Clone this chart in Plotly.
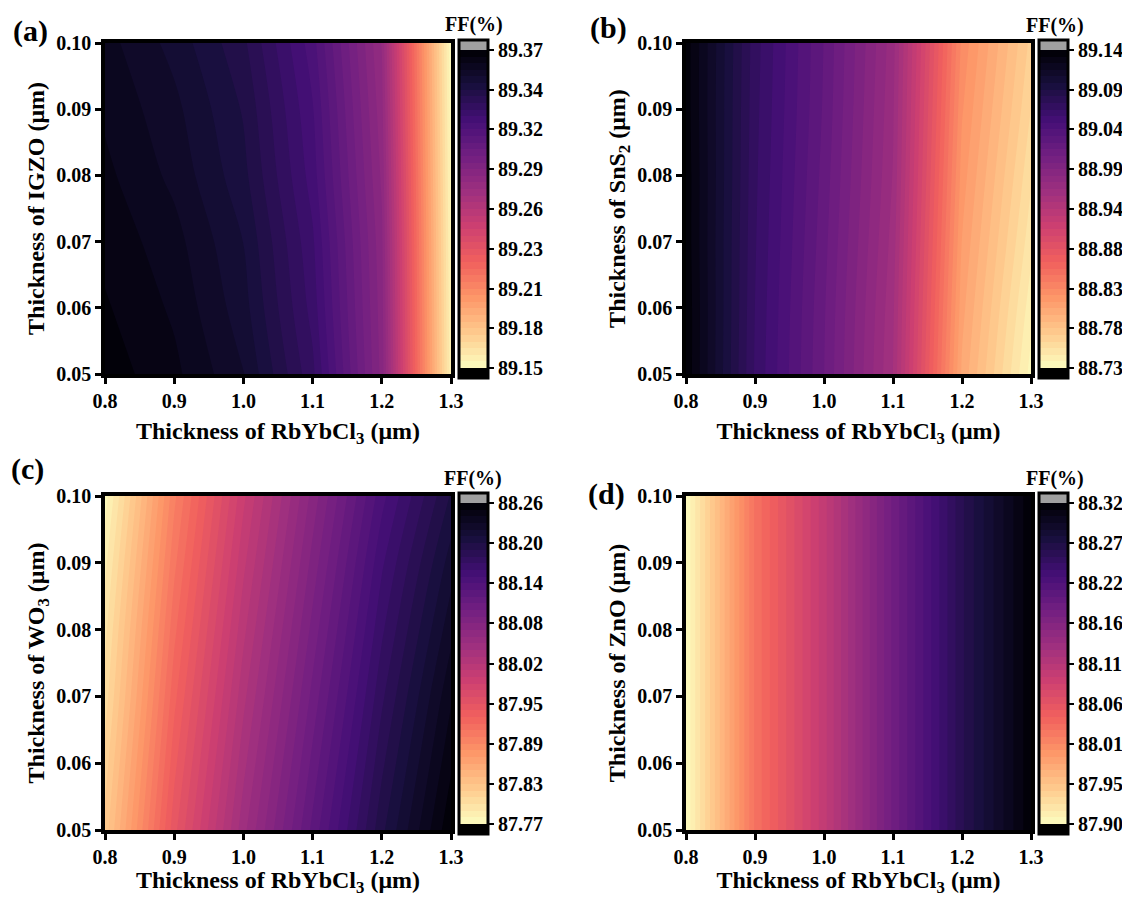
import numpy as np
import plotly.graph_objects as go

# ---------------- data ----------------
x_rbybcl3 = [0.8, 0.9, 1.0, 1.1, 1.2, 1.3]          # µm
y_layer = [0.05, 0.06, 0.07, 0.08, 0.09, 0.10]      # µm

# rows follow y_layer (0.05 -> 0.10), columns follow x_rbybcl3
ff_igzo = [
    [89.368, 89.362, 89.352, 89.330, 89.286, 89.156],
    [89.366, 89.360, 89.349, 89.327, 89.285, 89.155],
    [89.364, 89.358, 89.347, 89.325, 89.284, 89.154],
    [89.362, 89.355, 89.344, 89.322, 89.282, 89.153],
    [89.360, 89.353, 89.342, 89.320, 89.280, 89.152],
    [89.358, 89.350, 89.339, 89.317, 89.278, 89.151],
]
ff_sns2 = [
    [89.138, 89.062, 89.012, 88.952, 88.805, 88.735],
    [89.138, 89.063, 89.013, 88.954, 88.810, 88.742],
    [89.137, 89.064, 89.015, 88.957, 88.815, 88.750],
    [89.137, 89.065, 89.017, 88.960, 88.820, 88.757],
    [89.136, 89.066, 89.019, 88.962, 88.825, 88.764],
    [89.136, 89.067, 89.020, 88.964, 88.830, 88.770],
]
ff_wo3 = [
    [87.825, 87.950, 88.042, 88.120, 88.196, 88.258],
    [87.815, 87.940, 88.032, 88.110, 88.186, 88.248],
    [87.805, 87.930, 88.022, 88.100, 88.176, 88.238],
    [87.797, 87.920, 88.012, 88.090, 88.166, 88.226],
    [87.787, 87.910, 88.002, 88.080, 88.156, 88.214],
    [87.775, 87.900, 87.992, 88.070, 88.144, 88.200],
]
ff_zno = [
    [87.901, 88.024, 88.098, 88.182, 88.257, 88.318],
    [87.901, 88.024, 88.098, 88.182, 88.257, 88.318],
    [87.901, 88.024, 88.098, 88.182, 88.257, 88.318],
    [87.901, 88.024, 88.098, 88.182, 88.257, 88.318],
    [87.901, 88.024, 88.098, 88.182, 88.257, 88.318],
    [87.901, 88.024, 88.098, 88.182, 88.257, 88.318],
]

cbar_ticks_a = ["89.15", "89.18", "89.21", "89.23", "89.26", "89.29", "89.32", "89.34", "89.37"]
cbar_ticks_b = ["88.73", "88.78", "88.83", "88.88", "88.94", "88.99", "89.04", "89.09", "89.14"]
cbar_ticks_c = ["87.77", "87.83", "87.89", "87.95", "88.02", "88.08", "88.14", "88.20", "88.26"]
cbar_ticks_d = ["87.90", "87.95", "88.01", "88.06", "88.11", "88.16", "88.22", "88.27", "88.32"]

x_ticks = [0.8, 0.9, 1.0, 1.1, 1.2, 1.3]
x_tick_text = ["0.8", "0.9", "1.0", "1.1", "1.2", "1.3"]
y_ticks = [0.05, 0.06, 0.07, 0.08, 0.09, 0.10]
y_tick_text = ["0.05", "0.06", "0.07", "0.08", "0.09", "0.10"]

panel_labels = ["(a)", "(b)", "(c)", "(d)"]
y_titles = ["Thickness of IGZO (μm)", "Thickness of SnS<sub>2</sub> (μm)",
            "Thickness of WO<sub>3</sub> (μm)", "Thickness of ZnO (μm)"]
x_title = "Thickness of RbYbCl<sub>3</sub> (μm)"
cbar_title = "FF(%)"

# ---------------- styling ----------------
OFF = 8                      # page offset of the plot div inside the window
W, H = 1130 - OFF, 897 - OFF
FONT = "Liberation Serif, Times New Roman, serif"
magma = ['#000004', '#180f3d', '#440f76', '#721f81', '#9e2f7f',
         '#cd4071', '#f1605d', '#fd9668', '#feca8d', '#fcfdbf']
magma_r = magma[::-1]
NB = 48  # number of filled bands between min and max


def px(X):
    return (X - OFF) / W


def py(Y):
    return 1 - (Y - OFF) / H


# plot boxes in window pixels: (left, right, top, bottom)
boxes = [(105, 451, 43, 374), (686, 1031, 43, 374),
         (105, 451, 496, 830), (686, 1031, 496, 830)]
label_pos = [(30, 31), (608, 28), (27, 469), (606, 494)]
cbt_pos = [(474, 24), (1055, 26), (473, 478), (1055, 478)]
xtitle_standoff = [12, 12, 8, 8]

zs = [ff_igzo, ff_sns2, ff_wo3, ff_zno]
tick_sets = [cbar_ticks_a, cbar_ticks_b, cbar_ticks_c, cbar_ticks_d]

fig = go.Figure()
layout = dict(width=W, height=H,
              margin=dict(l=0, r=0, t=0, b=0, autoexpand=False),
              paper_bgcolor="white", plot_bgcolor="white",
              font=dict(family=FONT, color="black", size=20, weight="bold"),
              showlegend=False)
annotations = []

for i in range(4):
    l, r, t, b = boxes[i]
    ax = "" if i == 0 else str(i + 1)
    ticks = tick_sets[i]
    lo, hi = float(ticks[0]), float(ticks[-1])
    s = (hi - lo) / NB
    start = lo - s
    end = hi + 1.5 * s
    nlev = NB + 3
    p0 = 1.5 / nlev
    p1 = (NB + 1.5) / nlev
    pos = np.linspace(p0, p1, len(magma_r))
    cs = [[0.0, "#000000"], [p0, "#000000"]]
    cs += [[float(p), c] for p, c in zip(pos, magma_r)]
    cs += [[p1, "#a0a0a0"], [1.0, "#a0a0a0"]]
    cb_top, cb_bot = t - 3, b + 4
    fig.add_trace(go.Contour(
        x=x_rbybcl3, y=y_layer, z=zs[i],
        xaxis="x" + ax, yaxis="y" + ax,
        colorscale=cs,
        autocontour=False,
        contours=dict(start=start, end=end, size=s, coloring="fill", showlines=False),
        line=dict(width=0),
        colorbar=dict(
            x=px(r + 8), xanchor="left", xpad=0, ypad=0,
            y=(py(cb_top) + py(cb_bot)) / 2, yanchor="middle",
            len=(cb_bot - cb_top) / H, lenmode="fraction",
            thickness=29, outlinewidth=3, outlinecolor="black",
            tickvals=list(np.linspace(lo, hi, len(ticks))), ticktext=ticks,
            ticks="outside", ticklen=5, tickwidth=1.5, tickcolor="black",
            tickfont=dict(family=FONT, size=20, color="black", weight="bold"),
        ),
        hoverinfo="x+y+z",
    ))
    layout["xaxis" + ax] = dict(
        domain=[px(l), px(r)], anchor="y" + ax, range=[0.8, 1.3],
        tickvals=x_ticks, ticktext=x_tick_text,
        ticks="outside", ticklen=6, tickwidth=2.5, tickcolor="black",
        showline=True, linewidth=3.5, linecolor="black", mirror=True,
        showgrid=False, zeroline=False,
        tickfont=dict(family=FONT, size=20, color="black", weight="bold"),
        title=dict(text=x_title, standoff=xtitle_standoff[i],
                   font=dict(family=FONT, size=24, color="black", weight="bold")),
    )
    layout["yaxis" + ax] = dict(
        domain=[py(b), py(t)], anchor="x" + ax, range=[0.05, 0.10],
        tickvals=y_ticks, ticktext=y_tick_text,
        ticks="outside", ticklen=6, tickwidth=2.5, tickcolor="black",
        showline=True, linewidth=3.5, linecolor="black", mirror=True,
        showgrid=False, zeroline=False,
        tickfont=dict(family=FONT, size=20, color="black", weight="bold"),
        title=dict(text=y_titles[i], standoff=6,
                   font=dict(family=FONT, size=24, color="black", weight="bold")),
    )
    annotations.append(dict(
        text=panel_labels[i], xref="paper", yref="paper",
        x=px(label_pos[i][0]), y=py(label_pos[i][1]),
        xanchor="center", yanchor="middle", showarrow=False,
        font=dict(family=FONT, size=30, color="black", weight="bold")))
    annotations.append(dict(
        text=cbar_title, xref="paper", yref="paper",
        x=px(cbt_pos[i][0]), y=py(cbt_pos[i][1]),
        xanchor="center", yanchor="middle", showarrow=False,
        font=dict(family=FONT, size=20, color="black", weight="bold")))

layout["annotations"] = annotations
fig.update_layout(**layout)
fig.write_html("out.html")
